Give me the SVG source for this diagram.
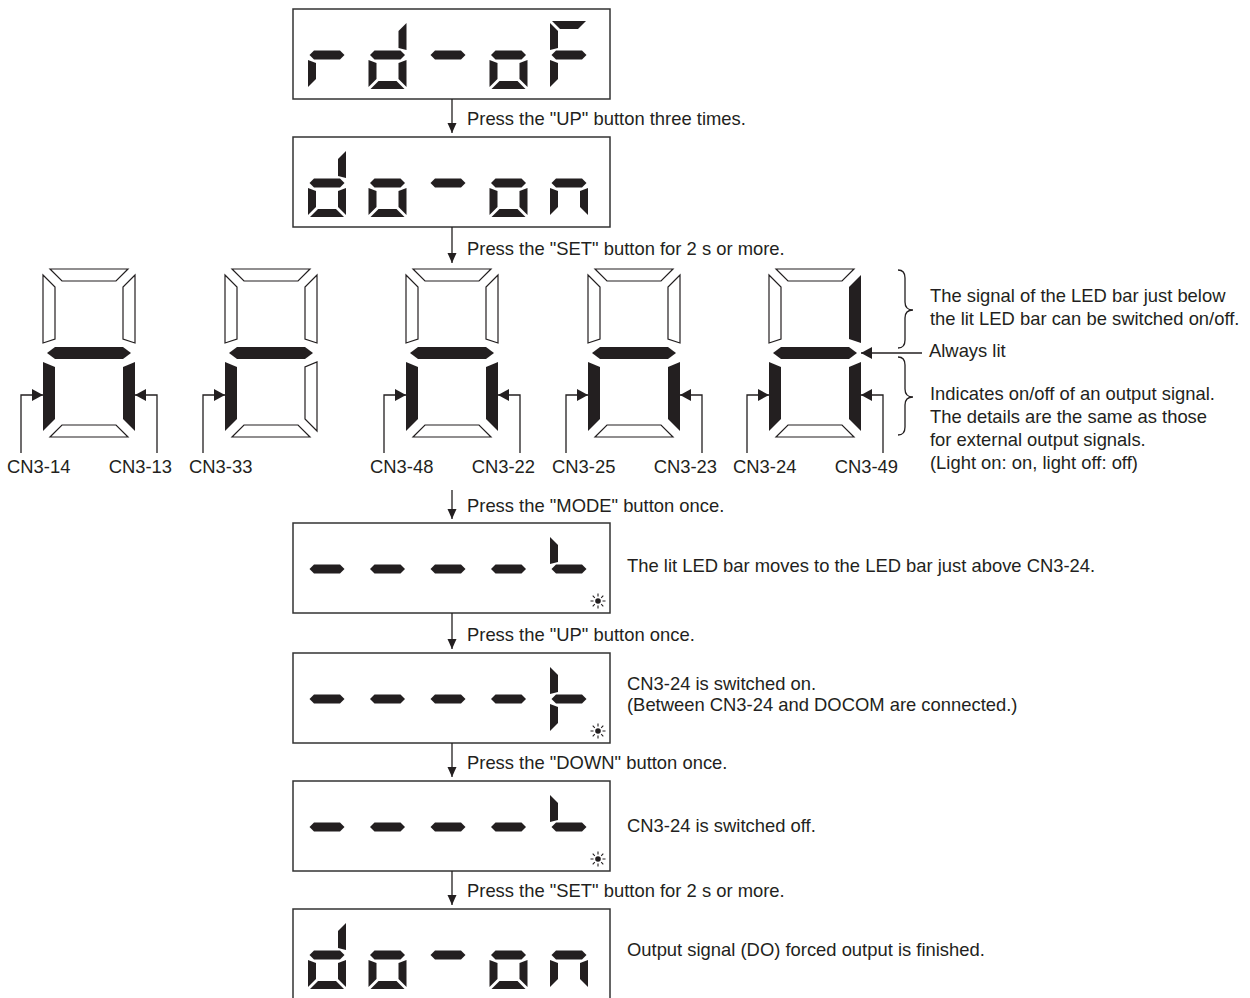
<svg xmlns="http://www.w3.org/2000/svg" xmlns:xlink="http://www.w3.org/1999/xlink" width="1250" height="998" viewBox="0 0 1250 998">
<style>
text{font-family:"Liberation Sans",Arial,sans-serif;font-size:18.4px;fill:#231f20}
.box{fill:#fff;stroke:#333;stroke-width:1.5}
.on{fill:#231f20}
.off{fill:#fff;stroke:#231f20;stroke-width:1.2;stroke-linejoin:miter}
.ln{fill:none;stroke:#231f20;stroke-width:1.3}
.ray{stroke:#231f20;stroke-width:1.1}
</style>
<defs>
<marker id="ah" markerUnits="userSpaceOnUse" markerWidth="10" markerHeight="10" refX="10" refY="5" orient="auto"><path d="M0,0.5 L10,5 L0,9.5 z" fill="#231f20"/></marker>
<marker id="ah2" markerUnits="userSpaceOnUse" markerWidth="12" markerHeight="12" refX="11" refY="6" orient="auto"><path d="M0,0 L11,6 L0,12 z" fill="#231f20"/></marker>
<polygon id="sa" points="2,0 36,0 28,8 10,8"/>
<polygon id="sb" points="38,2 38,29 30,27 30,10"/>
<polygon id="sc" points="38,39 38,66 30,58 30,42"/>
<polygon id="sd" points="10,60 28,60 36,68 2,68"/>
<polygon id="se" points="0,39 8,42 8,58 0,66"/>
<polygon id="sf" points="0,2 8,10 8,27 0,29"/>
<polygon id="sg" points="1.5,34 6,29.5 32,29.5 36.5,34 32,38.5 6,38.5"/>
<polygon id="ba" points="7,0 85,0 73,12 19,12"/>
<polygon id="bb" points="92,6 92,74 80,70 80,18"/>
<polygon id="bc" points="92,93 92,162 80,150 80,98"/>
<polygon id="bd" points="19,156 73,156 85,168 7,168"/>
<polygon id="be" points="0,93 12,98 12,150 0,162"/>
<polygon id="bf" points="0,6 12,18 12,70 0,74"/>
<polygon id="bg" points="4,84 12,78 80,78 88,84 80,90 12,90"/>
<g id="sun"><circle r="2.8" fill="#231f20"/><path class="ray" d="M0,-4.5V-7.5M0,4.5V7.5M-4.5,0H-7.5M4.5,0H7.5M3.2,3.2L5.3,5.3M-3.2,-3.2L-5.3,-5.3M3.2,-3.2L5.3,-5.3M-3.2,3.2L-5.3,5.3"/></g>
</defs>
<rect width="1250" height="998" fill="#fff"/>

<g id="display1">
<rect class="box" x="293" y="9" width="317" height="90"/>
<g transform="translate(308,21)" class="on"><use xlink:href="#sg"/><use xlink:href="#se"/></g>
<g transform="translate(368.5,21)" class="on"><use xlink:href="#sb"/><use xlink:href="#sg"/><use xlink:href="#se"/><use xlink:href="#sc"/><use xlink:href="#sd"/></g>
<g transform="translate(429,21)" class="on"><use xlink:href="#sg"/></g>
<g transform="translate(489.5,21)" class="on"><use xlink:href="#sg"/><use xlink:href="#se"/><use xlink:href="#sc"/><use xlink:href="#sd"/></g>
<g transform="translate(550,21)" class="on"><use xlink:href="#sa"/><use xlink:href="#sf"/><use xlink:href="#sg"/><use xlink:href="#se"/></g>
</g>

<g id="display2">
<rect class="box" x="293" y="137" width="317" height="90"/>
<g transform="translate(308,149)" class="on"><use xlink:href="#sb"/><use xlink:href="#sg"/><use xlink:href="#se"/><use xlink:href="#sc"/><use xlink:href="#sd"/></g>
<g transform="translate(368.5,149)" class="on"><use xlink:href="#sg"/><use xlink:href="#se"/><use xlink:href="#sc"/><use xlink:href="#sd"/></g>
<g transform="translate(429,149)" class="on"><use xlink:href="#sg"/></g>
<g transform="translate(489.5,149)" class="on"><use xlink:href="#sg"/><use xlink:href="#se"/><use xlink:href="#sc"/><use xlink:href="#sd"/></g>
<g transform="translate(550,149)" class="on"><use xlink:href="#sg"/><use xlink:href="#se"/><use xlink:href="#sc"/></g>
</g>

<g id="bigdigits">
<g id="digit1" transform="translate(43,269)">
<use xlink:href="#ba" class="off"/><use xlink:href="#bb" class="off"/><use xlink:href="#bf" class="off"/><use xlink:href="#bd" class="off"/>
<use xlink:href="#bg" class="on"/><use xlink:href="#be" class="on"/><use xlink:href="#bc" class="on"/>
</g>
<g id="digit2" transform="translate(225,269)">
<use xlink:href="#ba" class="off"/><use xlink:href="#bb" class="off"/><use xlink:href="#bf" class="off"/><use xlink:href="#bd" class="off"/><use xlink:href="#bc" class="off"/>
<use xlink:href="#bg" class="on"/><use xlink:href="#be" class="on"/>
</g>
<g id="digit3" transform="translate(406,269)">
<use xlink:href="#ba" class="off"/><use xlink:href="#bb" class="off"/><use xlink:href="#bf" class="off"/><use xlink:href="#bd" class="off"/>
<use xlink:href="#bg" class="on"/><use xlink:href="#be" class="on"/><use xlink:href="#bc" class="on"/>
</g>
<g id="digit4" transform="translate(588,269)">
<use xlink:href="#ba" class="off"/><use xlink:href="#bb" class="off"/><use xlink:href="#bf" class="off"/><use xlink:href="#bd" class="off"/>
<use xlink:href="#bg" class="on"/><use xlink:href="#be" class="on"/><use xlink:href="#bc" class="on"/>
</g>
<g id="digit5" transform="translate(769,269)">
<use xlink:href="#ba" class="off"/><use xlink:href="#bf" class="off"/><use xlink:href="#bd" class="off"/>
<use xlink:href="#bb" class="on"/><use xlink:href="#bg" class="on"/><use xlink:href="#be" class="on"/><use xlink:href="#bc" class="on"/>
</g>
</g>

<g id="display3">
<rect class="box" x="293" y="523" width="317" height="90"/>
<g class="on">
<use xlink:href="#sg" x="308" y="535"/><use xlink:href="#sg" x="368.5" y="535"/><use xlink:href="#sg" x="429" y="535"/><use xlink:href="#sg" x="489.5" y="535"/>
<use xlink:href="#sg" x="550" y="535"/><use xlink:href="#sf" x="550" y="535"/>
</g>
<use xlink:href="#sun" x="598" y="601"/>
</g>

<g id="display4">
<rect class="box" x="293" y="653" width="317" height="90"/>
<g class="on">
<use xlink:href="#sg" x="308" y="665"/><use xlink:href="#sg" x="368.5" y="665"/><use xlink:href="#sg" x="429" y="665"/><use xlink:href="#sg" x="489.5" y="665"/>
<use xlink:href="#sg" x="550" y="665"/><use xlink:href="#sf" x="550" y="665"/><use xlink:href="#se" x="550" y="665"/>
</g>
<use xlink:href="#sun" x="598" y="731"/>
</g>

<g id="display5">
<rect class="box" x="293" y="781" width="317" height="90"/>
<g class="on">
<use xlink:href="#sg" x="308" y="793"/><use xlink:href="#sg" x="368.5" y="793"/><use xlink:href="#sg" x="429" y="793"/><use xlink:href="#sg" x="489.5" y="793"/>
<use xlink:href="#sg" x="550" y="793"/><use xlink:href="#sf" x="550" y="793"/>
</g>
<use xlink:href="#sun" x="598" y="859"/>
</g>

<g id="display6">
<rect class="box" x="293" y="909" width="317" height="100"/>
<g transform="translate(308,921)" class="on"><use xlink:href="#sb"/><use xlink:href="#sg"/><use xlink:href="#se"/><use xlink:href="#sc"/><use xlink:href="#sd"/></g>
<g transform="translate(368.5,921)" class="on"><use xlink:href="#sg"/><use xlink:href="#se"/><use xlink:href="#sc"/><use xlink:href="#sd"/></g>
<g transform="translate(429,921)" class="on"><use xlink:href="#sg"/></g>
<g transform="translate(489.5,921)" class="on"><use xlink:href="#sg"/><use xlink:href="#se"/><use xlink:href="#sc"/><use xlink:href="#sd"/></g>
<g transform="translate(550,921)" class="on"><use xlink:href="#sg"/><use xlink:href="#se"/><use xlink:href="#sc"/></g>
</g>

<g id="connectors">
<path class="ln" marker-end="url(#ah)" d="M452,99V133"/>
<path class="ln" marker-end="url(#ah)" d="M452,227V263"/>
<path class="ln" marker-end="url(#ah)" d="M452,490V519"/>
<path class="ln" marker-end="url(#ah)" d="M452,613V649"/>
<path class="ln" marker-end="url(#ah)" d="M452,743V777"/>
<path class="ln" marker-end="url(#ah)" d="M452,871V905"/>
<path class="ln" marker-end="url(#ah2)" d="M21,453V395H43"/>
<path class="ln" marker-end="url(#ah2)" d="M157,453V395H135"/>
<path class="ln" marker-end="url(#ah2)" d="M203,453V395H225"/>
<path class="ln" marker-end="url(#ah2)" d="M384,453V395H406"/>
<path class="ln" marker-end="url(#ah2)" d="M520,453V395H498"/>
<path class="ln" marker-end="url(#ah2)" d="M566,453V395H588"/>
<path class="ln" marker-end="url(#ah2)" d="M702,453V395H680"/>
<path class="ln" marker-end="url(#ah2)" d="M747,453V395H769"/>
<path class="ln" marker-end="url(#ah2)" d="M883,453V395H861"/>
<path class="ln" marker-end="url(#ah2)" d="M922,353H861"/>
<path class="ln" d="M898,270Q905,270 905,278V302Q905,310 913,310Q905,310 905,318V340Q905,348 898,348"/>
<path class="ln" d="M898,357Q905,357 905,365V389Q905,397 913,397Q905,397 905,405V427Q905,435 898,435"/>
</g>

<g id="labels">
<text x="467" y="125">Press the "UP" button three times.</text>
<text x="467" y="255">Press the "SET" button for 2 s or more.</text>
<text x="467" y="512">Press the "MODE" button once.</text>
<text x="467" y="641">Press the "UP" button once.</text>
<text x="467" y="769">Press the "DOWN" button once.</text>
<text x="467" y="897">Press the "SET" button for 2 s or more.</text>
<text x="7" y="473">CN3-14</text>
<text x="172" y="473" text-anchor="end">CN3-13</text>
<text x="189" y="473">CN3-33</text>
<text x="370" y="473">CN3-48</text>
<text x="535" y="473" text-anchor="end">CN3-22</text>
<text x="552" y="473">CN3-25</text>
<text x="717" y="473" text-anchor="end">CN3-23</text>
<text x="733" y="473">CN3-24</text>
<text x="898" y="473" text-anchor="end">CN3-49</text>
<text x="930" y="302">The signal of the LED bar just below</text>
<text x="930" y="325">the lit LED bar can be switched on/off.</text>
<text x="929" y="357">Always lit</text>
<text x="930" y="400">Indicates on/off of an output signal.</text>
<text x="930" y="423">The details are the same as those</text>
<text x="930" y="446">for external output signals.</text>
<text x="930" y="469">(Light on: on, light off: off)</text>
<text x="627" y="572">The lit LED bar moves to the LED bar just above CN3-24.</text>
<text x="627" y="690">CN3-24 is switched on.</text>
<text x="627" y="711">(Between CN3-24 and DOCOM are connected.)</text>
<text x="627" y="832">CN3-24 is switched off.</text>
<text x="627" y="956">Output signal (DO) forced output is finished.</text>
</g>
</svg>
